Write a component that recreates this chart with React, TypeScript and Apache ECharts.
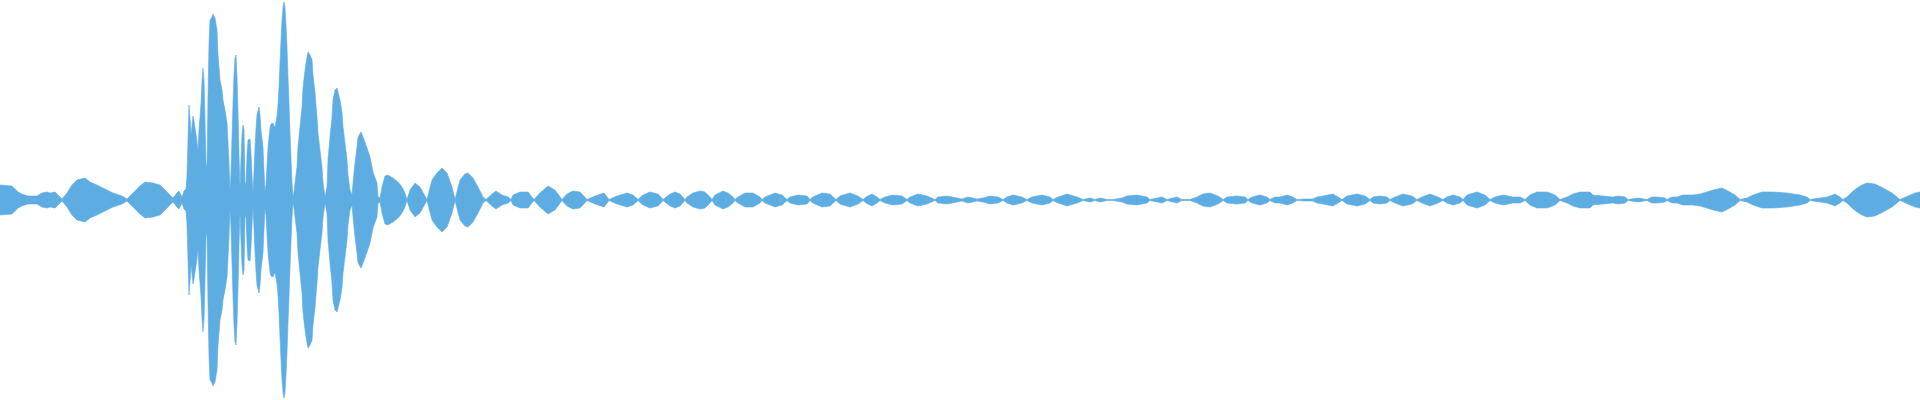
import React, { useEffect, useRef } from "react";
import * as echarts from "echarts";

// Waveform envelope: [sample position, amplitude] pairs, mirrored around zero.
const introEnvelope: [number, number][] = [
  [0, 15], [12, 14], [15, 11], [18, 8], [22, 6], [28, 4], [37, 4], [42, 7], [47, 8], [50, 7],
  [55, 8], [58, 5], [62, 1], [67, 7], [72, 15], [77, 20], [85, 22], [90, 18], [97, 15], [103, 12],
  [113, 7], [122, 4], [127, 1], [133, 7], [140, 14], [145, 18], [153, 17], [160, 15], [167, 8],
  [173, 2], [177, 7], [179, 9], [182, 3], [184, 9], [186, 11],
];

const burstEnvelope: [number, number][] = [
  [187, 25], [188, 60], [189, 95], [190, 82], [191, 65], [193, 84], [194, 79], [195, 72], [197, 59],
  [198, 49], [199, 70], [201, 96], [202, 119], [203, 132], [204, 120], [205, 80], [206, 38], [207, 32],
  [208, 104], [209, 157], [210, 180], [212, 183], [213, 186], [215, 182], [217, 170], [218, 145],
  [220, 120], [222, 110], [223, 100], [225, 90], [227, 77], [228, 58], [229, 37], [230, 10], [231, 27],
  [232, 63], [233, 97], [234, 125], [235, 142], [236, 145], [237, 123], [238, 88], [239, 45], [240, 12],
  [241, 41], [242, 65], [243, 75], [244, 70], [245, 15], [246, 18], [247, 45], [248, 60], [250, 61],
  [251, 47], [252, 25], [253, 7], [254, 28], [255, 52], [256, 72], [257, 85], [259, 93], [260, 85],
  [261, 70], [263, 53], [264, 29], [265, 8], [266, 16], [268, 52], [269, 63], [270, 72], [271, 76],
  [273, 77], [274, 74], [275, 73], [277, 84], [278, 95], [279, 113], [280, 137], [281, 160], [282, 180],
  [283, 193], [284, 198], [285, 193], [286, 175], [287, 153], [288, 123], [289, 97], [290, 67], [291, 42],
  [292, 18], [293, 3], [294, 8], [295, 17], [297, 33], [298, 53], [300, 73], [302, 93], [303, 112],
  [305, 130], [307, 143], [308, 148], [310, 145], [312, 140], [313, 125], [315, 107], [317, 83], [318, 67],
  [320, 50], [322, 33], [323, 18], [325, 3], [327, 13], [328, 40], [330, 63], [332, 83], [333, 100],
  [335, 110], [337, 112], [338, 108], [340, 100], [342, 88], [343, 73], [345, 57], [347, 40], [348, 25],
  [350, 10], [352, 5], [353, 17], [355, 37], [357, 53], [358, 63], [361, 68], [363, 63], [367, 52],
  [370, 43], [373, 28], [377, 17], [378, 3], [380, 2],
];

const decayEnvelope: [number, number][] = [
  [382, 13], [385, 24], [388, 25], [393, 22], [398, 18], [402, 13], [405, 7], [407, 0.5], [410, 10],
  [415, 17], [420, 13], [425, 4], [427, 0.5], [432, 20], [437, 27], [442, 32], [447, 27], [452, 13],
  [455, 0.5], [460, 20], [465, 26], [468, 27], [473, 22], [478, 13], [483, 3], [486, 0.5], [492, 6],
  [496, 9], [502, 5], [508, 3], [511, 0.5], [513, 5], [520, 8], [528, 8], [534, 0.5], [540, 7],
  [548, 14], [555, 10], [562, 0.5], [567, 6], [573, 9], [580, 8], [587, 0.5], [595, 4], [604, 7],
  [609, 0.5], [617, 4], [627, 7], [633, 5], [638, 0.5], [643, 5], [650, 8], [658, 6], [663, 0.5],
  [670, 6], [675, 8], [680, 6], [685, 0.5], [687, 3], [693, 7], [700, 9], [705, 8], [710, 3], [712, 0.5],
  [715, 5], [723, 9], [728, 7], [733, 3], [735, 0.5], [738, 3], [745, 7], [753, 7], [760, 3], [762, 0.5],
  [765, 3], [775, 7], [782, 5], [787, 0.5], [790, 3], [798, 5], [807, 4], [810, 0.5], [813, 3], [822, 7],
  [830, 6], [836, 0.5], [840, 4], [850, 7], [858, 4], [863, 0.5], [866, 3], [872, 6], [877, 3], [880, 0.5],
  [885, 3], [893, 5], [902, 4], [907, 0.5], [910, 3], [918, 6], [927, 4], [935, 0.5], [938, 3], [947, 4],
  [957, 2], [962, 1], [968, 3], [977, 1],
];

const tailEnvelope: [number, number][] = [
  [983, 2], [990, 4], [998, 3], [1003, 0.5], [1007, 3], [1013, 5], [1022, 3], [1027, 0.5], [1032, 3],
  [1042, 5], [1050, 3], [1053, 0.5], [1058, 3], [1067, 6], [1077, 3], [1083, 0.5], [1090, 2], [1095, 0.5],
  [1100, 2], [1107, 0.5], [1113, 0.5], [1122, 2], [1127, 4], [1137, 5], [1147, 3], [1150, 0.5], [1162, 3],
  [1167, 0.5], [1177, 3], [1182, 0.5], [1190, 0.5], [1197, 3], [1203, 6], [1210, 7], [1218, 4], [1223, 0.5],
  [1227, 3], [1237, 4], [1245, 3], [1248, 0.5], [1252, 3], [1260, 5], [1267, 3], [1270, 0.5], [1275, 3],
  [1280, 3], [1287, 5], [1293, 3], [1297, 0.5], [1305, 1], [1313, 1], [1317, 3], [1323, 4], [1333, 6],
  [1338, 3], [1342, 0.5], [1347, 4], [1357, 6], [1365, 4], [1370, 0.5], [1373, 3], [1380, 4], [1387, 3],
  [1390, 0.5], [1395, 3], [1403, 6], [1412, 4], [1417, 0.5], [1422, 3], [1430, 6], [1438, 3], [1443, 0.5],
  [1447, 3], [1453, 5], [1460, 3], [1463, 0.5], [1467, 5], [1477, 8], [1485, 5], [1490, 0.5], [1495, 3],
  [1503, 5], [1513, 3], [1520, 3], [1525, 0.5], [1530, 5], [1537, 8], [1547, 8], [1555, 5], [1560, 0.5],
  [1567, 3], [1573, 6], [1580, 8], [1590, 8], [1593, 5], [1603, 4], [1613, 3], [1618, 4], [1625, 3],
  [1628, 0.5], [1638, 2], [1647, 0.5], [1652, 3], [1658, 3], [1665, 2], [1667, 0.5], [1672, 3], [1677, 3],
  [1683, 5], [1693, 5], [1700, 6], [1707, 8], [1713, 10], [1722, 12], [1728, 9], [1735, 5], [1740, 0.5],
  [1747, 2], [1753, 5], [1762, 8], [1773, 8], [1787, 7], [1800, 5], [1807, 3], [1810, 0.5], [1813, 1],
  [1820, 2], [1827, 3], [1835, 6], [1840, 3], [1843, 0.5], [1847, 3], [1852, 8], [1857, 12], [1862, 15],
  [1867, 17], [1875, 16], [1883, 12], [1892, 7], [1900, 0.5], [1908, 4], [1915, 7], [1920, 8],
];

const WAVE_COLOR = "#5dade2";

export default function App() {
  const ref = useRef<HTMLDivElement>(null);

  useEffect(() => {
    if (!ref.current) return;
    const chart = echarts.init(ref.current, undefined, { renderer: "svg" });
    const envelope = [...introEnvelope, ...burstEnvelope, ...decayEnvelope, ...tailEnvelope];
    const upper = envelope.map(([x, a]) => [x, a]);
    const lower = envelope.map(([x, a]) => [x, -a]);
    const seriesBase = {
      type: "line" as const,
      showSymbol: false,
      symbol: "none",
      smooth: false,
      lineStyle: { width: 0.6, color: WAVE_COLOR },
      areaStyle: { color: WAVE_COLOR, opacity: 1 },
      itemStyle: { color: WAVE_COLOR },
      silent: true,
    };
    chart.setOption({
      animation: false,
      grid: { left: 0, right: 0, top: 0, bottom: 0 },
      xAxis: { type: "value", min: 0, max: 1920, show: false },
      yAxis: { type: "value", min: -200, max: 200, show: false },
      series: [
        { ...seriesBase, name: "upper", data: upper },
        { ...seriesBase, name: "lower", data: lower },
      ],
    });
    return () => chart.dispose();
  }, []);

  return (
    <div
      ref={ref}
      style={{ position: "fixed", left: 0, top: 0, width: 1920, height: 400, background: "#ffffff" }}
    />
  );
}
